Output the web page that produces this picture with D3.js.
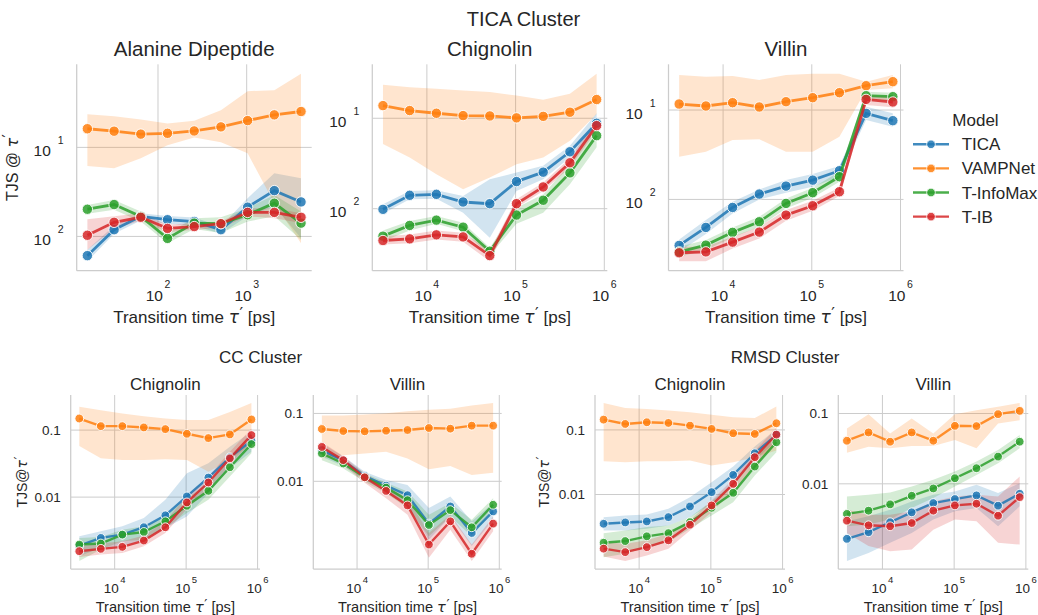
<!DOCTYPE html>
<html>
<head>
<meta charset="utf-8">
<script src="https://cdn.jsdelivr.net/npm/d3@7.9.0/dist/d3.min.js"></script>
<style>
  body { margin: 0; background: #fff; }
  text { font-family: "Liberation Sans", Arial, sans-serif; fill: #262626; }
</style>
</head>
<body>
<script>
// models and colours
const models = ['TICA', 'VAMPNet', 'T-InfoMax', 'T-IB'];
const colors = ['#1f77b4', '#ff7f0e', '#2ca02c', '#d62728'];

// transition times [ps]
const tauAla = [16, 32, 64, 128, 256, 512, 1024, 2048, 4096];
const tauProt = [3200, 6400, 12800, 25600, 51200, 102400, 204800, 409600, 819200];

// TICA cluster - Alanine Dipeptide (rows: TICA, VAMPNet, T-InfoMax, T-IB)
const alaMean = [
  [0.00608, 0.0119, 0.0168, 0.0154, 0.0147, 0.0119, 0.0213, 0.0327, 0.0244],
  [0.162, 0.152, 0.141, 0.144, 0.153, 0.170, 0.200, 0.232, 0.253],
  [0.0202, 0.0228, 0.0168, 0.0095, 0.0141, 0.0139, 0.0175, 0.0236, 0.0141],
  [0.0103, 0.0144, 0.0164, 0.0123, 0.0129, 0.0139, 0.0186, 0.0186, 0.0164]
];
const alaLo = [
  [0.00525, 0.0107, 0.0151, 0.0139, 0.0132, 0.0107, 0.0168, 0.0217, 0.0096],
  [0.0618, 0.0582, 0.0753, 0.106, 0.129, 0.114, 0.0857, 0.0236, 0.0084],
  [0.0180, 0.0199, 0.0147, 0.0084, 0.0121, 0.0109, 0.0147, 0.0168, 0.0092],
  [0.0071, 0.0121, 0.0151, 0.0111, 0.0119, 0.0124, 0.0168, 0.0160, 0.0141]
];
const alaHi = [
  [0.0071, 0.0132, 0.0182, 0.0170, 0.0163, 0.0129, 0.0269, 0.0512, 0.0450],
  [0.236, 0.224, 0.206, 0.186, 0.199, 0.262, 0.428, 0.439, 0.673],
  [0.0226, 0.0257, 0.0190, 0.0109, 0.0160, 0.0164, 0.0207, 0.0292, 0.0190],
  [0.0156, 0.0168, 0.0182, 0.0135, 0.0141, 0.0147, 0.0207, 0.0207, 0.0182]
];

// TICA cluster - Chignolin
const chiMean = [
  [0.00984, 0.01406, 0.01442, 0.01186, 0.01136, 0.01995, 0.02535, 0.0426, 0.0880],
  [0.138, 0.1216, 0.1136, 0.107, 0.106, 0.101, 0.105, 0.1166, 0.161],
  [0.00497, 0.00653, 0.00748, 0.00625, 0.00339, 0.00851, 0.0124, 0.0249, 0.0642],
  [0.00445, 0.00464, 0.00514, 0.00488, 0.00303, 0.01136, 0.0174, 0.0322, 0.0829]
];
const chiLo = [
  [0.0088, 0.0127, 0.0129, 0.00904, 0.00476, 0.01571, 0.0212, 0.0369, 0.0729],
  [0.0518, 0.0369, 0.0241, 0.0164, 0.0221, 0.0311, 0.0369, 0.0565, 0.1117],
  [0.00438, 0.00574, 0.00681, 0.00565, 0.00306, 0.00681, 0.00904, 0.0186, 0.0477],
  [0.00402, 0.00416, 0.00456, 0.0043, 0.00262, 0.01025, 0.01571, 0.02856, 0.0729]
];
const chiHi = [
  [0.01117, 0.01571, 0.01599, 0.01383, 0.0212, 0.0251, 0.0298, 0.0497, 0.1136],
  [0.2344, 0.2208, 0.2117, 0.2028, 0.1945, 0.1787, 0.1599, 0.1864, 0.311],
  [0.00574, 0.0073, 0.0083, 0.00699, 0.00369, 0.01025, 0.01442, 0.0311, 0.0829],
  [0.00497, 0.00519, 0.00574, 0.00541, 0.00345, 0.0127, 0.01945, 0.0362, 0.0959]
];

// TICA cluster - Villin
const vilMean = [
  [0.00306, 0.00486, 0.00813, 0.01148, 0.0141, 0.01644, 0.02094, 0.0918, 0.076],
  [0.1167, 0.1109, 0.1208, 0.1081, 0.1239, 0.1374, 0.1563, 0.1871, 0.2075],
  [0.00259, 0.00308, 0.00428, 0.00562, 0.00902, 0.01189, 0.01795, 0.1446, 0.141],
  [0.00253, 0.00259, 0.00333, 0.00431, 0.00668, 0.00849, 0.01219, 0.1315, 0.123]
];
const vilLo = [
  [0.00259, 0.00409, 0.00697, 0.0100, 0.01189, 0.01387, 0.01795, 0.0773, 0.065],
  [0.0301, 0.0342, 0.0462, 0.047, 0.0342, 0.0342, 0.0502, 0.1675, 0.175],
  [0.00228, 0.00271, 0.00376, 0.00494, 0.00793, 0.01044, 0.01578, 0.1294, 0.1271],
  [0.00203, 0.00203, 0.00282, 0.00366, 0.00577, 0.00747, 0.01089, 0.1137, 0.1071]
];
const vilHi = [
  [0.00356, 0.00587, 0.00942, 0.01294, 0.01644, 0.01923, 0.0236, 0.1089, 0.0918],
  [0.2466, 0.236, 0.2404, 0.2168, 0.2466, 0.255, 0.255, 0.2075, 0.2466],
  [0.00295, 0.00351, 0.00486, 0.0064, 0.01026, 0.01351, 0.0204, 0.1603, 0.1563],
  [0.00295, 0.00295, 0.00382, 0.00494, 0.0076, 0.00966, 0.01362, 0.1472, 0.141]
];

// CC cluster - Chignolin
const ccChiMean = [
  [0.00189, 0.00246, 0.00276, 0.00355, 0.00535, 0.01023, 0.0196, 0.0393, 0.0695],
  [0.149, 0.1146, 0.1146, 0.1096, 0.1035, 0.0882, 0.0761, 0.0862, 0.144],
  [0.00196, 0.00203, 0.00276, 0.00302, 0.00436, 0.00743, 0.01241, 0.0279, 0.0619],
  [0.00156, 0.00169, 0.00181, 0.00225, 0.00355, 0.00833, 0.01652, 0.0379, 0.0843]
];
const ccChiLo = [
  [0.00131, 0.00175, 0.00185, 0.00232, 0.00347, 0.00516, 0.01146, 0.027, 0.0476],
  [0.0578, 0.0379, 0.0358, 0.0358, 0.0366, 0.0358, 0.024, 0.0358, 0.0634],
  [0.00111, 0.00165, 0.0022, 0.00232, 0.00347, 0.00578, 0.00912, 0.0203, 0.045],
  [0.00128, 0.00139, 0.00147, 0.00185, 0.00292, 0.00664, 0.01315, 0.0302, 0.0671]
];
const ccChiHi = [
  [0.00261, 0.00309, 0.00367, 0.00488, 0.00912, 0.0227, 0.032, 0.0565, 0.0945],
  [0.2223, 0.198, 0.177, 0.1615, 0.149, 0.141, 0.141, 0.187, 0.2547],
  [0.00246, 0.00255, 0.00327, 0.00367, 0.00516, 0.00966, 0.01615, 0.0358, 0.0752],
  [0.00185, 0.00203, 0.0022, 0.00267, 0.00436, 0.01047, 0.0203, 0.0476, 0.1059]
];

// CC cluster - Villin
const ccVilMean = [
  [0.0288, 0.0201, 0.01197, 0.00864, 0.00624, 0.00238, 0.00426, 0.00173, 0.0036],
  [0.059, 0.0551, 0.0545, 0.0557, 0.057, 0.061, 0.0597, 0.0661, 0.0661],
  [0.0257, 0.0183, 0.01145, 0.00807, 0.00527, 0.00227, 0.00376, 0.0021, 0.00451],
  [0.0321, 0.0205, 0.01145, 0.00722, 0.00441, 0.00117, 0.00257, 0.000855, 0.00238]
];
const ccVilLo = [
  [0.023, 0.0168, 0.01047, 0.00706, 0.00451, 0.00138, 0.00304, 0.00111, 0.00272],
  [0.0217, 0.0243, 0.0257, 0.0272, 0.0217, 0.015, 0.0168, 0.0124, 0.0134],
  [0.0205, 0.0155, 0.00989, 0.00667, 0.00403, 0.00155, 0.00304, 0.00155, 0.0036],
  [0.0263, 0.0173, 0.00955, 0.00564, 0.00322, 0.000747, 0.00194, 0.000667, 0.00183]
];
const ccVilHi = [
  [0.036, 0.0235, 0.01384, 0.01047, 0.00883, 0.00403, 0.00597, 0.00257, 0.00477],
  [0.0935, 0.0935, 0.0967, 0.101, 0.108, 0.113, 0.117, 0.131, 0.143],
  [0.0321, 0.0217, 0.01309, 0.00955, 0.00706, 0.00322, 0.00477, 0.00272, 0.00564],
  [0.038, 0.0235, 0.01309, 0.00855, 0.00564, 0.00173, 0.00322, 0.00117, 0.00304]
];

// RMSD cluster - Chignolin
const rmChiMean = [
  [0.00352, 0.00369, 0.00382, 0.00446, 0.00652, 0.01087, 0.0201, 0.0435, 0.0837],
  [0.1445, 0.1238, 0.1314, 0.1283, 0.1167, 0.1036, 0.0888, 0.0867, 0.1268],
  [0.00179, 0.0019, 0.00225, 0.00252, 0.00373, 0.00622, 0.01062, 0.0271, 0.0644],
  [0.00145, 0.00128, 0.00153, 0.00195, 0.0034, 0.00676, 0.01462, 0.0378, 0.0848]
];
const rmChiLo = [
  [0.00277, 0.00277, 0.00294, 0.00332, 0.00446, 0.00718, 0.01462, 0.0336, 0.0684],
  [0.0327, 0.0316, 0.0327, 0.0327, 0.0336, 0.0281, 0.0316, 0.0378, 0.0479],
  [0.00107, 0.00121, 0.00153, 0.00183, 0.00294, 0.00473, 0.0076, 0.01968, 0.0452],
  [0.0011, 0.00093, 0.00114, 0.00145, 0.00277, 0.00533, 0.01153, 0.0281, 0.0644]
];
const rmChiHi = [
  [0.00446, 0.00473, 0.00491, 0.006, 0.0091, 0.01553, 0.0271, 0.0552, 0.1036],
  [0.262, 0.2188, 0.2113, 0.199, 0.1875, 0.1725, 0.157, 0.1534, 0.2296],
  [0.00252, 0.00277, 0.00313, 0.00332, 0.00446, 0.00789, 0.01462, 0.0369, 0.0867],
  [0.00183, 0.00173, 0.00195, 0.00246, 0.00396, 0.00807, 0.01745, 0.0479, 0.1074]
];

// RMSD cluster - Villin
const rmVilMean = [
  [0.00165, 0.00205, 0.00284, 0.00393, 0.00532, 0.00607, 0.00684, 0.00489, 0.00721],
  [0.041, 0.0538, 0.0397, 0.0538, 0.041, 0.0668, 0.0662, 0.0979, 0.109],
  [0.00373, 0.00415, 0.0051, 0.00676, 0.00859, 0.012, 0.01667, 0.0244, 0.0397],
  [0.00299, 0.00257, 0.00249, 0.00277, 0.00415, 0.00493, 0.00521, 0.00352, 0.00647]
];
const rmVilLo = [
  [0.000796, 0.00104, 0.00145, 0.002, 0.0031, 0.00406, 0.00453, 0.00249, 0.00478],
  [0.0277, 0.0337, 0.032, 0.0345, 0.0345, 0.042, 0.032, 0.0722, 0.0805],
  [0.00249, 0.00263, 0.0031, 0.00453, 0.00627, 0.00916, 0.0134, 0.0196, 0.032],
  [0.002, 0.0013, 0.0011, 0.00116, 0.00223, 0.0031, 0.00293, 0.00145, 0.00137]
];
const rmVilHi = [
  [0.00293, 0.00345, 0.00429, 0.00562, 0.00698, 0.0078, 0.00968, 0.00738, 0.0102],
  [0.0614, 0.0979, 0.0521, 0.085, 0.0521, 0.0979, 0.1115, 0.1243, 0.1415],
  [0.00662, 0.00698, 0.00753, 0.00916, 0.0114, 0.01496, 0.0207, 0.0303, 0.0493],
  [0.00429, 0.00364, 0.00364, 0.00406, 0.00562, 0.00662, 0.00698, 0.00662, 0.0127]
];

// tick values
const alaXTicks = [1e2, 1e3];
const protXTicks = [1e4, 1e5, 1e6];
const topYTicks = [1e-2, 1e-1];
const bottomYTicks = [0.01, 0.1];
const bottomYLabels = ['0.01', '0.1'];

const W = 1038, H = 615;
const svg = d3.select('body').append('svg')
  .attr('width', W).attr('height', H)
  .style('background', '#fff');

const topStyle = { tick: 15.5, sup: 10.5, title: 20.5, xlab: 17, ylab: 16, lw: 2.8, r: 5.2,
  xTickDy: 30, supDy: -12.4, xLabDy: 52, titleDy: -8.8, yTickGap: 13 };
const botStyle = { tick: 13.5, sup: 9.5, title: 17, xlab: 14.6, ylab: 14, lw: 2.4, r: 4.4,
  xTickDy: 24.3, supDy: -10.6, xLabDy: 43, titleDy: -5, yTickGap: 10 };

const panels = [
  { title: 'Alanine Dipeptide', xs: tauAla, mean: alaMean, lo: alaLo, hi: alaHi, xticks: alaXTicks,
    l: 76.7, r: 311.7, t: 64.3, b: 270.7, s: topStyle, ylabel: 'TJS @ ', ylabX: 17.5 },
  { title: 'Chignolin', xs: tauProt, mean: chiMean, lo: chiLo, hi: chiHi, xticks: protXTicks,
    l: 372.3, r: 607.3, t: 64.3, b: 270.7, s: topStyle },
  { title: 'Villin', xs: tauProt, mean: vilMean, lo: vilLo, hi: vilHi, xticks: protXTicks,
    l: 668.5, r: 903.5, t: 64.3, b: 270.7, s: topStyle },
  { title: 'Chignolin', xs: tauProt, mean: ccChiMean, lo: ccChiLo, hi: ccChiHi, xticks: protXTicks,
    l: 70.7, r: 260, t: 395, b: 569, s: botStyle, ylabel: 'TJS@', ylabX: 26.7, plain: true },
  { title: 'Villin', xs: tauProt, mean: ccVilMean, lo: ccVilLo, hi: ccVilHi, xticks: protXTicks,
    l: 313.3, r: 501.7, t: 395, b: 569, s: botStyle, plain: true },
  { title: 'Chignolin', xs: tauProt, mean: rmChiMean, lo: rmChiLo, hi: rmChiHi, xticks: protXTicks,
    l: 595, r: 785, t: 395, b: 569, s: botStyle, ylabel: 'TJS@', ylabX: 549.3, plain: true },
  { title: 'Villin', xs: tauProt, mean: rmVilMean, lo: rmVilLo, hi: rmVilHi, xticks: protXTicks,
    l: 838.3, r: 1028.3, t: 395, b: 569, s: botStyle, plain: true }
];

function logDomain(vals) {
  const lv = vals.map(Math.log10);
  const mn = d3.min(lv), mx = d3.max(lv), m = (mx - mn) * 0.05;
  return [Math.pow(10, mn - m), Math.pow(10, mx + m)];
}

// "τ′" like matplotlib mathtext: oblique tau and a raised prime
function addTau(node, size, rest) {
  node.append('tspan').style('font-family', '"DejaVu Sans", sans-serif')
    .style('font-style', 'italic').text('τ');
  node.append('tspan').attr('dy', -size * 0.22).attr('dx', 0.5)
    .style('font-family', '"DejaVu Sans", sans-serif')
    .style('font-size', (size * 0.95) + 'px').text('′');
  if (rest) node.append('tspan').attr('dy', size * 0.22).text(rest);
}

function drawPanel(p) {
  const s = p.s;
  const g = svg.append('g');
  const x = d3.scaleLog().domain(logDomain(p.xs)).range([p.l, p.r]);
  const allY = p.lo.flat().concat(p.hi.flat(), p.mean.flat());
  const y = d3.scaleLog().domain(logDomain(allY)).range([p.b, p.t]);
  const yticks = p.plain ? bottomYTicks : topYTicks;

  // grid
  g.selectAll('.gx').data(p.xticks).join('line')
    .attr('x1', d => x(d)).attr('x2', d => x(d)).attr('y1', p.t).attr('y2', p.b)
    .attr('stroke', '#cccccc').attr('stroke-width', 1);
  g.selectAll('.gy').data(yticks).join('line')
    .attr('x1', p.l).attr('x2', p.r).attr('y1', d => y(d)).attr('y2', d => y(d))
    .attr('stroke', '#cccccc').attr('stroke-width', 1);
  // spines
  g.append('line').attr('x1', p.l).attr('x2', p.l).attr('y1', p.t).attr('y2', p.b)
    .attr('stroke', '#cccccc').attr('stroke-width', 1.25);
  g.append('line').attr('x1', p.l).attr('x2', p.r).attr('y1', p.b).attr('y2', p.b)
    .attr('stroke', '#cccccc').attr('stroke-width', 1.25);

  // x tick labels 10^k
  p.xticks.forEach(v => {
    const t = g.append('text').attr('x', x(v)).attr('y', p.b + s.xTickDy)
      .attr('text-anchor', 'middle').style('font-size', s.tick + 'px');
    t.append('tspan').text('10');
    t.append('tspan').attr('dy', s.supDy).attr('dx', 1.5).style('font-size', s.sup + 'px')
      .text(Math.round(Math.log10(v)));
  });

  // y tick labels
  yticks.forEach((v, i) => {
    if (p.plain) {
      g.append('text').attr('x', p.l - s.yTickGap).attr('y', y(v) + 4.8)
        .attr('text-anchor', 'end').style('font-size', s.tick + 'px')
        .text(bottomYLabels[i]);
    } else {
      const t = g.append('text').attr('x', p.l - s.yTickGap).attr('y', y(v) + 8.7)
        .attr('text-anchor', 'end').style('font-size', s.tick + 'px');
      t.append('tspan').text('10');
      t.append('tspan').attr('dy', -12).attr('dx', 7).style('font-size', s.sup + 'px')
        .text(Math.abs(Math.round(Math.log10(v))));
    }
  });

  // titles and axis labels
  g.append('text').attr('x', (p.l + p.r) / 2).attr('y', p.t + s.titleDy)
    .attr('text-anchor', 'middle').style('font-size', s.title + 'px').text(p.title);
  const xl = g.append('text').attr('x', (p.l + p.r) / 2).attr('y', p.b + s.xLabDy)
    .attr('text-anchor', 'middle').style('font-size', s.xlab + 'px');
  xl.append('tspan').text('Transition time ');
  addTau(xl, s.xlab, ' [ps]');
  if (p.ylabel) {
    const yl = g.append('text')
      .attr('transform', `translate(${p.ylabX},${(p.t + p.b) / 2}) rotate(-90)`)
      .attr('text-anchor', 'middle').style('font-size', s.ylab + 'px');
    yl.append('tspan').text(p.ylabel);
    addTau(yl, s.ylab);
  }

  // confidence bands
  const area = d3.area()
    .x((d, i) => x(p.xs[i])).y0(d => y(d[0])).y1(d => y(d[1]));
  models.forEach((m, k) => {
    g.append('path').datum(d3.zip(p.lo[k], p.hi[k]))
      .attr('d', area).attr('fill', colors[k]).attr('fill-opacity', 0.2);
  });

  // lines with markers
  const line = d3.line().x((d, i) => x(p.xs[i])).y(d => y(d));
  models.forEach((m, k) => {
    g.append('path').datum(p.mean[k]).attr('d', line)
      .attr('fill', 'none').attr('stroke', colors[k]).attr('stroke-width', s.lw)
      .attr('stroke-opacity', 0.85);
    g.selectAll(null).data(p.mean[k]).join('circle')
      .attr('cx', (d, i) => x(p.xs[i])).attr('cy', d => y(d)).attr('r', s.r)
      .attr('fill', colors[k]).attr('fill-opacity', 0.85)
      .attr('stroke', '#fff').attr('stroke-width', 0.9);
  });
}

panels.forEach(drawPanel);

// group titles
svg.append('text').attr('x', 523.5).attr('y', 26).attr('text-anchor', 'middle')
  .style('font-size', '20px').text('TICA Cluster');
svg.append('text').attr('x', 260.5).attr('y', 362.5).attr('text-anchor', 'middle')
  .style('font-size', '17px').text('CC Cluster');
svg.append('text').attr('x', 785).attr('y', 362.5).attr('text-anchor', 'middle')
  .style('font-size', '17px').text('RMSD Cluster');

// legend
const leg = svg.append('g');
leg.append('text').attr('x', 975.5).attr('y', 126).attr('text-anchor', 'middle')
  .style('font-size', '17px').text('Model');
models.forEach((m, k) => {
  const cy = 144.3 + k * 24.1;
  leg.append('line').attr('x1', 913).attr('x2', 949).attr('y1', cy).attr('y2', cy)
    .attr('stroke', colors[k]).attr('stroke-width', 2.4).attr('stroke-opacity', 0.85);
  leg.append('circle').attr('cx', 931).attr('cy', cy).attr('r', 4.3)
    .attr('fill', colors[k]).attr('fill-opacity', 0.85)
    .attr('stroke', '#fff').attr('stroke-width', 0.8);
  leg.append('text').attr('x', 961.7).attr('y', cy + 6).style('font-size', '17px').text(m);
});
</script>
</body>
</html>
